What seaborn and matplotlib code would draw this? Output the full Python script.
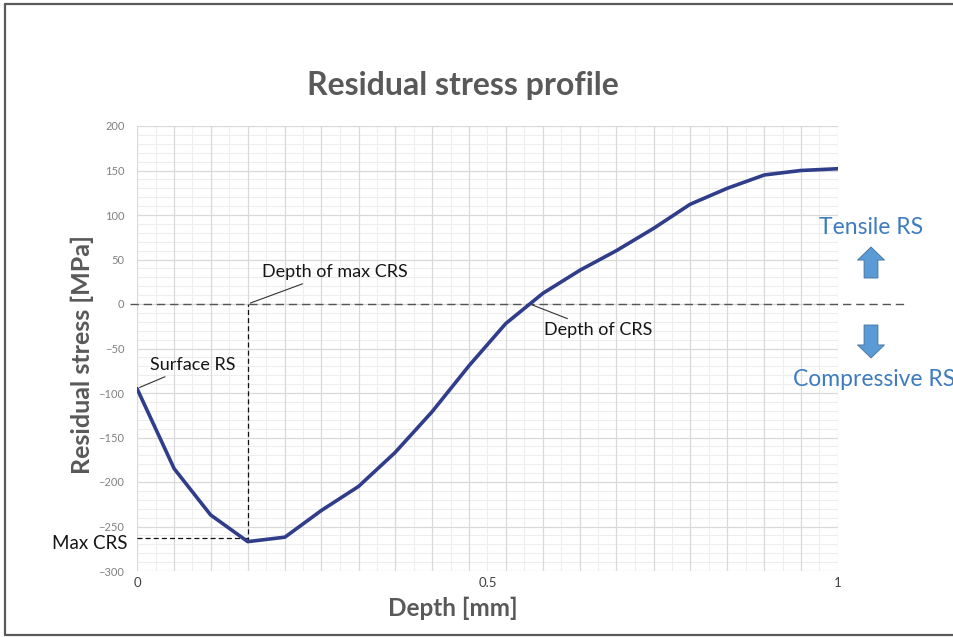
import numpy as np
import pandas as pd
import seaborn as sns
import matplotlib.pyplot as plt
from matplotlib.lines import Line2D

# depth [mm] and residual stress [MPa]
depth = [0, 0.053, 0.105, 0.158, 0.211, 0.263, 0.316, 0.368, 0.421, 0.474,
         0.526, 0.579, 0.632, 0.684, 0.737, 0.789, 0.842, 0.895, 0.947, 1.0]
stress = [-95, -185, -237, -267, -262, -232, -205, -167, -121, -69,
          -22, 12, 38, 60, 85, 112, 130, 145, 150, 152]
x_ticks = [0, 0.5, 1]
x_ticklabels = ['0', '0.5', '1']
y_ticks = list(range(-300, 201, 50))

sns.set_style("white")
plt.rcParams['font.family'] = ['Lato', 'DejaVu Sans']

W, H = 954, 637
fig = plt.figure(figsize=(W / 100, H / 100), dpi=100)
ax = fig.add_axes([137 / W, 1 - 571 / H, 701 / W, 445 / H])

df = pd.DataFrame({'depth': depth, 'stress': stress})
sns.lineplot(data=df, x='depth', y='stress', ax=ax, color='#2f3d8a', lw=2.6, zorder=4)

ax.set_xlim(0, 1)
ax.set_ylim(-300, 200)

# grid like the excel one: lines on the sample depths + halfway, 50 / 10 MPa
mids = [(a + b) / 2 for a, b in zip(depth[:-1], depth[1:])]
for x in mids:
    ax.axvline(x, color='#eeeeee', lw=0.8, zorder=0)
for y in range(-300, 201, 10):
    if y % 50:
        ax.axhline(y, color='#eeeeee', lw=0.8, zorder=0)
for x in depth:
    ax.axvline(x, color='#d9d9d9', lw=0.9, zorder=1)
for y in y_ticks:
    ax.axhline(y, color='#d9d9d9', lw=0.9, zorder=1)

ax.set_xticks(x_ticks)
ax.set_xticklabels(x_ticklabels)
ax.set_yticks(y_ticks)
ax.tick_params(axis='x', length=0, pad=4, labelsize=9.5, labelcolor='#404040')
ax.tick_params(axis='y', length=0, pad=9, labelsize=8, labelcolor='#808080')
for s in ax.spines.values():
    s.set_visible(False)
ax.set_xlabel('')
ax.set_ylabel('')

# zero line, runs out past the plot area
ax.axhline(0, xmin=-0.01, xmax=1.096, color='#555555', lw=1.0,
           ls=(0, (6, 3.5)), clip_on=False, zorder=3)

# max compressive stress
i_min = int(np.argmin(stress))
d_min, s_min = depth[i_min], stress[i_min]
ax.plot([d_min, d_min], [s_min, 0], color='#111111', lw=0.9, ls=(0, (4, 2.5)), zorder=3)
ax.plot([0, d_min], [s_min + 4, s_min + 4], color='#111111', lw=0.9, ls=(0, (4, 2.5)), zorder=3)

# zero crossing
j = next(k for k in range(len(stress) - 1) if stress[k] < 0 <= stress[k + 1])
d_cross = depth[j] + (depth[j + 1] - depth[j]) * (-stress[j]) / (stress[j + 1] - stress[j])

lead = dict(arrowstyle='-', color='#333333', lw=0.8, shrinkA=1, shrinkB=2)
txt = dict(textcoords='offset points', fontsize=13, color='#151515', va='center')
ax.annotate('Surface RS', xy=(0, stress[0]), xytext=(9.5, 17), ha='left',
            arrowprops=lead, **txt)
ax.annotate('Depth of max CRS', xy=(d_min, 0), xytext=(10, 23), ha='left',
            arrowprops=lead, **txt)
ax.annotate('Depth of CRS', xy=(d_cross, 0), xytext=(10, -19), ha='left',
            arrowprops=lead, **txt)
ax.annotate('Max CRS', xy=(0, s_min), xytext=(-6.5, -1), ha='right',
            annotation_clip=False, **dict(txt, fontsize=13.5))

# titles
fig.text(463 / W, 1 - 86 / H, 'Residual stress profile', ha='center', va='center',
         fontsize=23, fontweight='bold', color='#595959')
fig.text(82 / W, 1 - 355 / H, 'Residual stress [MPa]', ha='center', va='center',
         rotation=90, fontsize=18, fontweight='bold', color='#595959')
fig.text(453 / W, 1 - 608 / H, 'Depth [mm]', ha='center', va='center',
         fontsize=17.5, fontweight='bold', color='#595959')

# tensile / compressive side notes
blue_txt = '#3e7cbf'
fig.text(871 / W, 1 - 227 / H, 'Tensile RS', ha='center', va='center',
         fontsize=16.5, color=blue_txt)
fig.text(793 / W, 1 - 380 / H, 'Compressive RS', ha='left', va='center',
         fontsize=16.5, color=blue_txt)
arrow = dict(arrowstyle='simple,head_width=0.97,head_length=0.47,tail_width=0.5',
             mutation_scale=20, fc='#5b9bd5', ec='#41719c', lw=0.6, shrinkA=0, shrinkB=0)
ax.annotate('', xy=(871, H - 247), xytext=(871, H - 278), xycoords='figure pixels',
            arrowprops=arrow, annotation_clip=False)
ax.annotate('', xy=(871, H - 358), xytext=(871, H - 325), xycoords='figure pixels',
            arrowprops=arrow, annotation_clip=False)

# frame of the pasted chart (left, top, bottom; right side is cut off)
frame = dict(color='#5a5a5a', lw=1.6, transform=fig.transFigure)
fig.add_artist(Line2D([5 / W, 5 / W], [1 - 4 / H, 1 - 635 / H], **frame))
fig.add_artist(Line2D([5 / W, 1], [1 - 4 / H, 1 - 4 / H], **frame))
fig.add_artist(Line2D([5 / W, 1], [1 - 635 / H, 1 - 635 / H], **frame))

fig.savefig('out.png', dpi=100)
